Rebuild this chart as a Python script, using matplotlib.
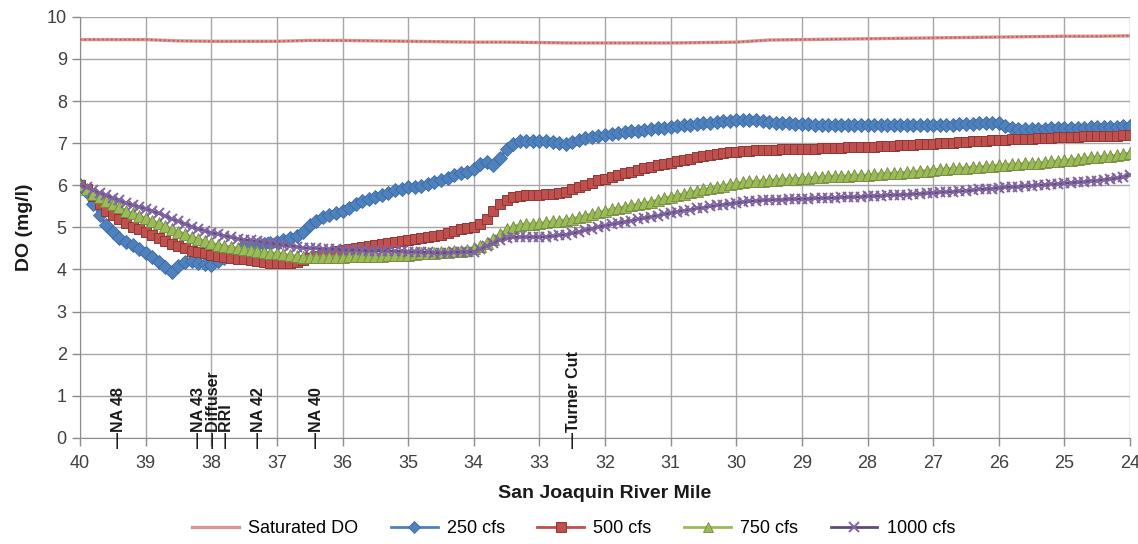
import numpy as np
import matplotlib as mpl
mpl.use('Agg')
import matplotlib.pyplot as plt

plt.rcParams['font.family'] = ['Liberation Sans', 'DejaVu Sans']

# river mile stations, 0.1 mi apart, upstream (40) to downstream (24)
miles = np.round(np.arange(400, 239, -1) / 10.0, 1)

do_250 = [
    6.00, 5.85, 5.55, 5.30, 5.05, 4.90, 4.75, 4.65, 4.58, 4.48,
    4.40, 4.30, 4.18, 4.05, 3.95, 4.08, 4.18, 4.20, 4.15, 4.12,
    4.10, 4.20, 4.28, 4.35, 4.42, 4.50, 4.55, 4.58, 4.60, 4.62,
    4.65, 4.70, 4.75, 4.80, 4.90, 5.05, 5.15, 5.25, 5.30, 5.35,
    5.38, 5.45, 5.55, 5.62, 5.68, 5.72, 5.78, 5.82, 5.88, 5.92,
    5.95, 5.95, 5.98, 6.03, 6.08, 6.12, 6.18, 6.24, 6.28, 6.32,
    6.38, 6.50, 6.55, 6.48, 6.65, 6.85, 6.98, 7.05, 7.06, 7.05,
    7.06, 7.05, 7.02, 7.00, 6.98, 7.02, 7.08, 7.12, 7.15, 7.18,
    7.20, 7.22, 7.25, 7.27, 7.28, 7.30, 7.32, 7.34, 7.36, 7.37,
    7.38, 7.40, 7.42, 7.44, 7.45, 7.47, 7.49, 7.50, 7.52, 7.53,
    7.54, 7.55, 7.55, 7.54, 7.52, 7.50, 7.49, 7.48, 7.47, 7.46,
    7.45, 7.45, 7.44, 7.44, 7.44, 7.43, 7.43, 7.43, 7.43, 7.43,
    7.43, 7.43, 7.43, 7.43, 7.43, 7.43, 7.43, 7.43, 7.43, 7.43,
    7.43, 7.43, 7.44, 7.44, 7.45, 7.45, 7.46, 7.47, 7.48, 7.48,
    7.47, 7.40, 7.35, 7.33, 7.33, 7.33, 7.34, 7.34, 7.35, 7.35,
    7.36, 7.36, 7.37, 7.37, 7.38, 7.38, 7.38, 7.39, 7.39, 7.40,
    7.40,
]

do_500 = [
    6.00, 5.92, 5.75, 5.55, 5.40, 5.30, 5.20, 5.10, 5.02, 4.95,
    4.88, 4.82, 4.75, 4.68, 4.60, 4.55, 4.50, 4.45, 4.42, 4.38,
    4.35, 4.32, 4.30, 4.28, 4.26, 4.24, 4.22, 4.20, 4.18, 4.16,
    4.15, 4.15, 4.16, 4.18, 4.22, 4.28, 4.32, 4.36, 4.40, 4.43,
    4.46, 4.48, 4.50, 4.53, 4.56, 4.58, 4.60, 4.63, 4.66, 4.68,
    4.70, 4.72, 4.75, 4.78, 4.80, 4.83, 4.87, 4.92, 4.95, 4.98,
    5.00, 5.08, 5.20, 5.38, 5.55, 5.65, 5.72, 5.75, 5.76, 5.77,
    5.78, 5.79, 5.80, 5.82, 5.85, 5.90, 5.95, 6.00, 6.06, 6.12,
    6.15, 6.20, 6.24, 6.28, 6.32, 6.36, 6.40, 6.44, 6.48, 6.51,
    6.54, 6.57, 6.60, 6.63, 6.66, 6.69, 6.72, 6.75, 6.77, 6.79,
    6.80, 6.81, 6.82, 6.83, 6.83, 6.84, 6.84, 6.85, 6.85, 6.86,
    6.86, 6.87, 6.87, 6.88, 6.88, 6.89, 6.89, 6.90, 6.90, 6.91,
    6.92, 6.92, 6.93, 6.94, 6.94, 6.95, 6.96, 6.96, 6.97, 6.98,
    6.99, 7.00, 7.00, 7.01, 7.02, 7.03, 7.04, 7.05, 7.06, 7.07,
    7.08, 7.08, 7.09, 7.10, 7.10, 7.11, 7.12, 7.12, 7.13, 7.14,
    7.14, 7.15, 7.15, 7.16, 7.16, 7.17, 7.17, 7.18, 7.18, 7.19,
    7.20,
]

do_750 = [
    6.00, 5.90, 5.80, 5.72, 5.62, 5.55, 5.48, 5.40, 5.34, 5.28,
    5.22, 5.16, 5.10, 5.04, 4.95, 4.90, 4.84, 4.78, 4.72, 4.67,
    4.62, 4.59, 4.56, 4.53, 4.51, 4.49, 4.47, 4.45, 4.42, 4.40,
    4.38, 4.36, 4.34, 4.32, 4.30, 4.30, 4.30, 4.30, 4.30, 4.30,
    4.30, 4.31, 4.31, 4.32, 4.32, 4.33, 4.33, 4.34, 4.34, 4.35,
    4.35, 4.36, 4.38, 4.39, 4.40, 4.41, 4.42, 4.43, 4.45, 4.47,
    4.50, 4.55, 4.62, 4.72, 4.85, 4.95, 5.02, 5.06, 5.08, 5.09,
    5.10, 5.12, 5.14, 5.16, 5.18, 5.21, 5.24, 5.28, 5.32, 5.36,
    5.40, 5.43, 5.46, 5.49, 5.52, 5.55, 5.58, 5.61, 5.65, 5.69,
    5.73, 5.76, 5.80, 5.84, 5.87, 5.90, 5.93, 5.96, 5.99, 6.02,
    6.05, 6.07, 6.09, 6.10, 6.11, 6.12, 6.13, 6.14, 6.15, 6.16,
    6.17, 6.18, 6.19, 6.20, 6.21, 6.22, 6.22, 6.23, 6.24, 6.24,
    6.25, 6.26, 6.27, 6.28, 6.29, 6.30, 6.31, 6.32, 6.34, 6.35,
    6.37, 6.38, 6.39, 6.40, 6.41, 6.42, 6.43, 6.44, 6.45, 6.46,
    6.48, 6.49, 6.50, 6.51, 6.52, 6.53, 6.54, 6.55, 6.57, 6.58,
    6.60, 6.61, 6.63, 6.64, 6.66, 6.67, 6.69, 6.70, 6.72, 6.74,
    6.77,
]

do_1000 = [
    6.00, 5.95, 5.88, 5.82, 5.76, 5.70, 5.64, 5.58, 5.53, 5.49,
    5.44, 5.39, 5.33, 5.27, 5.20, 5.14, 5.08, 5.02, 4.97, 4.92,
    4.87, 4.84, 4.80, 4.77, 4.73, 4.70, 4.69, 4.67, 4.65, 4.62,
    4.60, 4.58, 4.56, 4.54, 4.52, 4.50, 4.50, 4.49, 4.48, 4.48,
    4.47, 4.47, 4.46, 4.46, 4.45, 4.45, 4.44, 4.44, 4.43, 4.43,
    4.42, 4.42, 4.41, 4.41, 4.40, 4.40, 4.40, 4.41, 4.41, 4.42,
    4.42, 4.48, 4.55, 4.62, 4.70, 4.74, 4.76, 4.77, 4.77, 4.77,
    4.77, 4.78, 4.79, 4.81, 4.83, 4.86, 4.89, 4.93, 4.97, 5.01,
    5.04, 5.07, 5.10, 5.13, 5.16, 5.19, 5.22, 5.25, 5.28, 5.31,
    5.34, 5.37, 5.40, 5.42, 5.45, 5.47, 5.50, 5.52, 5.54, 5.56,
    5.58, 5.60, 5.62, 5.63, 5.64, 5.65, 5.66, 5.66, 5.67, 5.67,
    5.68, 5.68, 5.69, 5.69, 5.70, 5.70, 5.71, 5.72, 5.72, 5.73,
    5.74, 5.74, 5.75, 5.76, 5.77, 5.78, 5.78, 5.79, 5.80, 5.81,
    5.82, 5.83, 5.84, 5.85, 5.86, 5.87, 5.88, 5.90, 5.91, 5.92,
    5.94, 5.95, 5.96, 5.97, 5.98, 5.99, 6.00, 6.01, 6.02, 6.03,
    6.05, 6.06, 6.07, 6.08, 6.10, 6.11, 6.13, 6.15, 6.17, 6.20,
    6.25,
]

# saturation DO, every 0.5 mi
sat_miles = np.round(np.arange(80, 47, -1) / 2.0, 1)
sat_do = [
    9.46, 9.46, 9.46, 9.43, 9.42, 9.42, 9.42, 9.44, 9.44, 9.43,
    9.42, 9.41, 9.40, 9.40, 9.39, 9.38, 9.38, 9.38, 9.38, 9.39,
    9.40, 9.45, 9.46, 9.47, 9.48, 9.49, 9.50, 9.51, 9.52, 9.53,
    9.54, 9.54, 9.55,
]

# landmarks along the channel
site_names = ['NA 48', 'NA 43', 'Diffuser', 'RRI', 'NA 42', 'NA 40', 'Turner Cut']
site_miles = [39.42, 38.19, 37.97, 37.77, 37.28, 36.39, 32.48]

fig = plt.figure(figsize=(11.38, 5.44), dpi=100)
ax = fig.add_axes([0.0703, 0.195, 0.9227, 0.774])

ax.plot(sat_miles, sat_do, '-', color='#d99694', lw=2.4, label='Saturated DO', zorder=3)
ax.plot(sat_miles, sat_do, ':', color='#c0504d', lw=1.2, zorder=3)
ax.plot(miles, do_250, '-', color='#4f81bd', lw=2, marker='D', ms=7.2,
        mfc='#4f81bd', mec='#3a6aa6', mew=0.6, label='250 cfs', zorder=4)
ax.plot(miles, do_500, '-', color='#c0504d', lw=2, marker='s', ms=7.8,
        mfc='#c0504d', mec='#8c3836', mew=0.7, label='500 cfs', zorder=5)
ax.plot(miles, do_750, '-', color='#9bbb59', lw=2, marker='^', ms=8.4,
        mfc='#9bbb59', mec='#71893f', mew=0.6, label='750 cfs', zorder=6)
ax.plot(miles, do_1000, '-', color='#604a7b', lw=2, marker='x', ms=7.6,
        mec='#8064a2', mew=1.4, label='1000 cfs', zorder=7)

for name, m in zip(site_names, site_miles):
    ax.text(m, -0.23, '\u2014' + name, rotation=90, ha='center', va='bottom',
            fontsize=11.5, fontweight='bold', color='#1a1a1a', zorder=8)

ax.set_xlim(40, 24)
ax.set_ylim(0, 10)
ax.set_xticks(np.arange(40, 23, -1))
ax.set_yticks(np.arange(0, 11, 1))
ax.grid(True, color='#a6a6a6', lw=1)
ax.set_axisbelow(True)
for s in ['top', 'right']:
    ax.spines[s].set_visible(False)
for s in ['left', 'bottom']:
    ax.spines[s].set_color('#8c8c8c')
ax.tick_params(colors='#8c8c8c', labelcolor='#404040', labelsize=13, length=6, width=1)
ax.tick_params(axis='x', pad=6)

ax.set_xlabel('San Joaquin River Mile', fontsize=14, fontweight='bold', labelpad=10, color='#1a1a1a')
ax.set_ylabel('DO (mg/l)', fontsize=14, fontweight='bold', labelpad=10, color='#1a1a1a')

ax.legend(loc='center', bbox_to_anchor=(0.47, -0.215), ncol=5, frameon=False,
          fontsize=13, handlelength=2.6, handletextpad=0.5, columnspacing=1.8,
          markerscale=0.9)

fig.savefig('out.png', dpi=100)
